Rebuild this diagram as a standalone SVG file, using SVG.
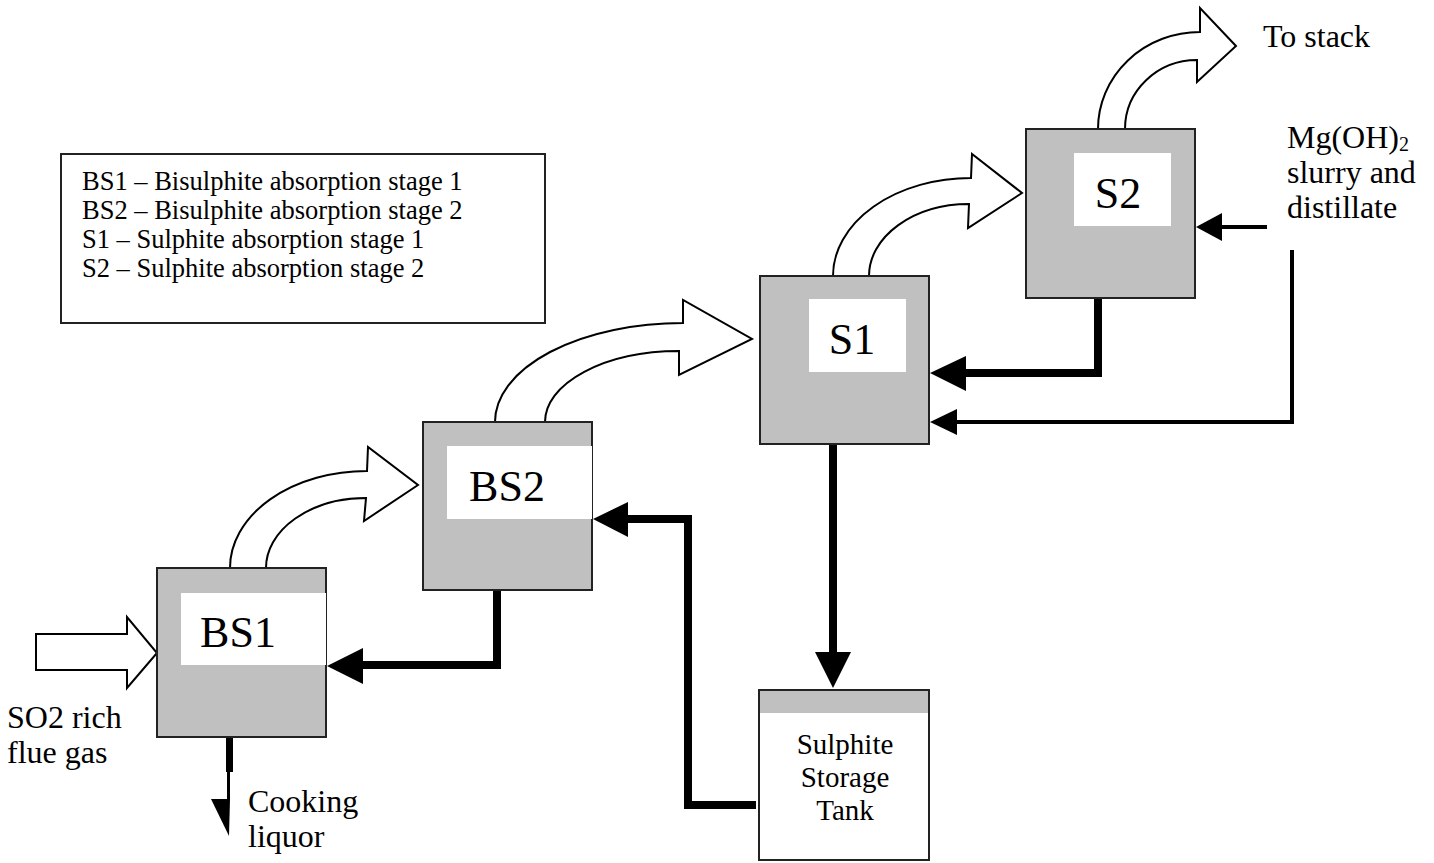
<svg xmlns="http://www.w3.org/2000/svg" width="1434" height="863" viewBox="0 0 1434 863">
<style>
text{font-family:"Liberation Serif","Times New Roman",serif;fill:#000}
.t32{font-size:32px}
.tank{font-size:29px;text-anchor:middle}
.lbl{font-size:44px;text-anchor:middle}
.leg{font-size:26.5px}
.box{fill:#c0c0c0;stroke:#222;stroke-width:2}
.win{fill:#fff;stroke:none}
.hollow{fill:#fff;stroke:#000;stroke-width:2;stroke-linejoin:miter}
.thick{fill:none;stroke:#000;stroke-width:8;stroke-linejoin:miter;stroke-linecap:square}
.thin{fill:none;stroke:#000;stroke-width:4;stroke-linejoin:miter;stroke-linecap:square}
.head{fill:#000;stroke:none}
</style>
<rect width="1434" height="863" fill="#fff"/>

<g id="legend">
<rect x="61" y="154" width="484" height="169" fill="#fff" stroke="#222" stroke-width="2"/>
<text class="leg" x="82" y="190">BS1 – Bisulphite absorption stage 1</text>
<text class="leg" x="82" y="219">BS2 – Bisulphite absorption stage 2</text>
<text class="leg" x="82" y="248">S1 – Sulphite absorption stage 1</text>
<text class="leg" x="82" y="277">S2 – Sulphite absorption stage 2</text>
</g>

<g id="connectors">
<polygon class="hollow" points="36,634 127,634 127,617 157,653 127,688 127,670 36,670"/>
<path class="hollow" d="M230,568 A137,97 0 0 1 367,471 L368,447 L418,485 L364,521 L366,498 A100,70 0 0 0 266,568 Z"/>
<path class="hollow" d="M495,422 A188,99 0 0 1 683,323 L683,300 L752,339 L679,375 L679,351 A134,71 0 0 0 545,422 Z"/>
<path class="hollow" d="M833,276 A138,98 0 0 1 971,178 L972,154 L1022,193 L968,228 L969,204 A100,72 0 0 0 869,276 Z"/>
<path class="hollow" d="M1098,129 A102,97 0 0 1 1200,32 L1200,8 L1236,46 L1197,82 L1197,60 A72,69 0 0 0 1125,129 Z"/>
<path class="thick" d="M497,594 V665 H363"/>
<polygon class="head" points="327,666 363,648 363,684"/>
<path class="thick" d="M752,805 H688 V519 H628"/>
<polygon class="head" points="593,519 628,502 628,537"/>
<path class="thick" d="M833,448 V652"/>
<polygon class="head" points="815,652 851,652 833,688"/>
<path class="thick" d="M1098,302 V373 H966"/>
<polygon class="head" points="930,373 966,356 966,391"/>
<path class="thin" d="M1265,227 H1222"/>
<polygon class="head" points="1196,227 1222,213 1222,241"/>
<path class="thin" d="M1292,252 V422 H957"/>
<polygon class="head" points="930,422 957,409 957,435"/>
<rect x="226" y="738" width="7" height="34" fill="#000"/>
<rect x="227" y="772" width="3" height="28" fill="#000"/>
<polygon class="head" points="211,799 230,799 229,836"/>
</g>

<g id="BS1">
<rect class="box" x="157" y="568" width="169" height="169"/>
<rect class="win" x="181" y="593" width="145" height="72"/>
<text class="lbl" x="238" y="647">BS1</text>
</g>

<g id="BS2">
<rect class="box" x="423" y="422" width="169" height="168"/>
<rect class="win" x="447" y="446" width="145" height="73"/>
<text class="lbl" x="507" y="501">BS2</text>
</g>

<g id="S1">
<rect class="box" x="760" y="276" width="169" height="168"/>
<rect class="win" x="809" y="299" width="97" height="73"/>
<text class="lbl" x="852" y="354">S1</text>
</g>

<g id="S2">
<rect class="box" x="1026" y="129" width="169" height="169"/>
<rect class="win" x="1074" y="153" width="97" height="73"/>
<text class="lbl" x="1118" y="208">S2</text>
</g>

<g id="storage">
<rect x="759" y="690" width="170" height="170" fill="#fff" stroke="#222" stroke-width="2"/>
<rect x="760" y="691" width="168" height="22" fill="#c0c0c0"/>
<text class="tank" x="845" y="754">Sulphite</text>
<text class="tank" x="845" y="787">Storage</text>
<text class="tank" x="845" y="820">Tank</text>
</g>

<g id="labels">
<text class="t32" x="7" y="728">SO2 rich</text>
<text class="t32" x="7" y="763">flue gas</text>
<text class="t32" x="248" y="812">Cooking</text>
<text class="t32" x="248" y="847">liquor</text>
<text class="t32" x="1263" y="47">To stack</text>
<text class="t32" x="1287" y="148">Mg(OH)<tspan font-size="20" dy="3">2</tspan></text>
<text class="t32" x="1287" y="183">slurry and</text>
<text class="t32" x="1287" y="218">distillate</text>
</g>
</svg>
